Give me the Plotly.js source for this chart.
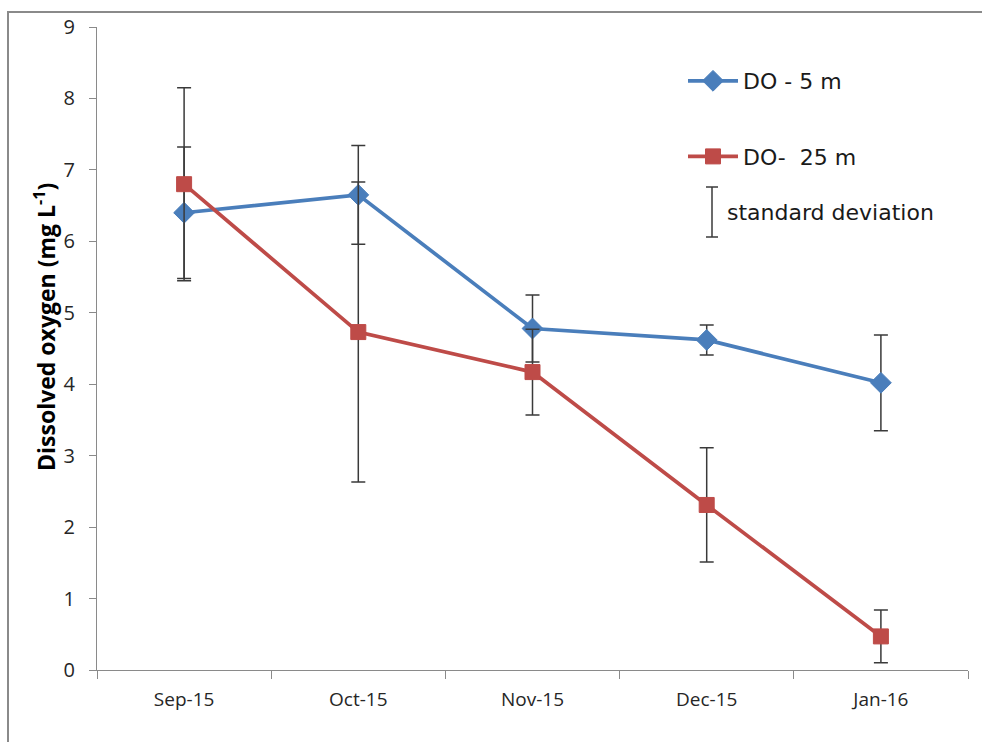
<!DOCTYPE html>
<html>
<head>
<meta charset="utf-8">
<script src="https://cdn.plot.ly/plotly-3.0.1.min.js"></script>
<style>
  html, body { margin: 0; padding: 0; background: #ffffff; }
  #frame { position: absolute; left: 7px; top: 11px; width: 1200px; height: 1000px;
           border-left: 2px solid #8a8a8a; border-top: 2px solid #8a8a8a; pointer-events: none; z-index: 5; }
  #chart { width: 982px; height: 742px; }
</style>
</head>
<body>
<div id="frame"></div>
<div id="chart"></div>
<script>
const months = ["Sep-15", "Oct-15", "Nov-15", "Dec-15", "Jan-16"];
const do5m = [6.40, 6.65, 4.78, 4.62, 4.02];
const do5mSd = [0.92, 0.69, 0.47, 0.21, 0.67];
const do25m = [6.80, 4.73, 4.17, 2.31, 0.47];
const do25mSd = [1.35, 2.10, 0.60, 0.80, 0.37];
const yTicks = [0, 1, 2, 3, 4, 5, 6, 7, 8, 9];

const blue = "#4A7EBB";
const red = "#BE4B48";
const errColor = "#3a3a3a";

const L = 97, R = 968, T = 27, B = 670;
const px = v => (v - L) / (R - L);
const py = v => (B - v) / (B - T);

const traces = [
  {
    x: months, y: do5m, name: "DO - 5 m", type: "scatter", mode: "lines+markers",
    legendgroup: "a",
    line: { color: blue, width: 3.7 },
    marker: { symbol: "diamond", size: 16, color: blue, line: { color: blue, width: 1 } },
    error_y: { type: "data", array: do5mSd, visible: true, color: errColor, thickness: 1.5, width: 7 }
  },
  {
    x: months, y: do25m, name: "DO-  25 m", type: "scatter", mode: "lines+markers",
    legendgroup: "b",
    line: { color: red, width: 3.7 },
    marker: { symbol: "square", size: 15, color: red, line: { color: red, width: 1 } },
    error_y: { type: "data", array: do25mSd, visible: true, color: errColor, thickness: 1.5, width: 7 }
  }
];

const layout = {
  width: 982, height: 742,
  margin: { l: L, r: 982 - R, t: T, b: 742 - B, pad: 0 },
  paper_bgcolor: "#ffffff", plot_bgcolor: "#ffffff",
  font: { family: "Open Sans, sans-serif", color: "#262626" },
  showlegend: true,
  legend: {
    x: px(683), y: py(60), xanchor: "left", yanchor: "top",
    traceorder: "grouped", tracegroupgap: 44, itemwidth: 50,
    font: { family: "DejaVu Sans, sans-serif", size: 22, color: "#1a1a1a" },
    bgcolor: "rgba(0,0,0,0)"
  },
  xaxis: {
    type: "category", range: [-0.5, 4.5],
    showline: true, linecolor: "#8a8a8a", linewidth: 1.2,
    ticks: "outside", tickson: "boundaries", ticklen: 8, tickcolor: "#8a8a8a", tickwidth: 1,
    showgrid: false, zeroline: false,
    tickfont: { size: 19, color: "#262626" },
    ticklabelstandoff: 12
  },
  yaxis: {
    range: [0, 9], tickvals: yTicks, ticktext: yTicks.map(String),
    showline: true, linecolor: "#8a8a8a", linewidth: 1.2,
    ticks: "outside", ticklen: 7, tickcolor: "#8a8a8a", tickwidth: 1,
    showgrid: false, zeroline: false,
    tickfont: { size: 20, color: "#262626" },
    ticklabelstandoff: 10
  },
  annotations: [
    {
      text: "<b>Dissolved oxygen (mg L<sup>-1</sup>)</b>",
      xref: "paper", yref: "paper", x: px(45), y: py(327),
      xanchor: "center", yanchor: "middle", textangle: -90, showarrow: false,
      font: { family: "Open Sans, sans-serif", size: 23, color: "#000000" }
    },
    {
      text: "standard deviation",
      xref: "paper", yref: "paper", x: px(725), y: py(212),
      xanchor: "left", yanchor: "middle", showarrow: false,
      font: { family: "DejaVu Sans, sans-serif", size: 22, color: "#1a1a1a" }
    }
  ],
  shapes: [
    { type: "line", xref: "paper", yref: "paper", x0: px(712), x1: px(712), y0: py(187), y1: py(237), line: { color: errColor, width: 1.5 } },
    { type: "line", xref: "paper", yref: "paper", x0: px(706), x1: px(718), y0: py(187), y1: py(187), line: { color: errColor, width: 1.5 } },
    { type: "line", xref: "paper", yref: "paper", x0: px(706), x1: px(718), y0: py(237), y1: py(237), line: { color: errColor, width: 1.5 } }
  ]
};

Plotly.newPlot("chart", traces, layout, { displayModeBar: false, responsive: false });
</script>
</body>
</html>
